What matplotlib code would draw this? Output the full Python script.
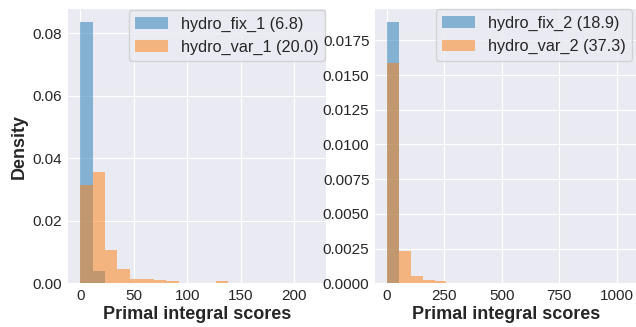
import matplotlib
matplotlib.use('Agg')
import matplotlib.pyplot as plt
import numpy as np

plt.style.use('seaborn-v0_8-darkgrid')
plt.rcParams['font.family'] = ['Liberation Sans', 'DejaVu Sans']

# densities per bin (20 equal bins over each score range)
edges_1 = np.linspace(0, 230, 21)
fix_1 = [0.0836, 0.0040] + [0] * 18
var_1 = [0.0315, 0.0357, 0.0106, 0.0045, 0.0014, 0.0014, 0.0010, 0.0007,
         0, 0, 0, 0.0008, 0, 0, 0, 0, 0, 0, 0, 0]

edges_2 = np.linspace(0, 1035, 21)
fix_2 = [0.01882] + [0] * 19
var_2 = [0.01587, 0.00232, 0.00055, 0.00024, 0.00014] + [0] * 15

labels_1 = ['hydro_fix_1 (6.8)', 'hydro_var_1 (20.0)']
labels_2 = ['hydro_fix_2 (18.9)', 'hydro_var_2 (37.3)']

W, H = 636, 327
fig = plt.figure(figsize=(W / 100, H / 100), dpi=100)
ax1 = fig.add_axes([68 / W, (H - 283.3) / H, (326 - 68) / W, (283.3 - 9) / H])
ax2 = fig.add_axes([375 / W, (H - 283.3) / H, (637 - 375) / W, (283.3 - 9) / H])

legend_kw = dict(loc='upper right', borderaxespad=0, fontsize=11.7,
                 frameon=True, fancybox=True, facecolor='#EAEAF2',
                 edgecolor='0.8', framealpha=0.8)


def draw(ax, edges, fix, var, labels):
    widths = np.diff(edges)
    ax.bar(edges[:-1], fix, width=widths, align='edge', color='#1f77b4',
           alpha=0.5, linewidth=0, label=labels[0])
    ax.bar(edges[:-1], var, width=widths, align='edge', color='#ff7f0e',
           alpha=0.5, linewidth=0, label=labels[1])
    ax.set_xlabel('Primal integral scores', fontsize=13, fontweight='bold',
                  labelpad=2)
    ax.tick_params(labelsize=11, pad=4)


draw(ax1, edges_1, fix_1, var_1, labels_1)
draw(ax2, edges_2, fix_2, var_2, labels_2)

ax1.set_xlim(-11.5, 229.5)
ax1.set_xticks([0, 50, 100, 150, 200])
ax1.set_yticks(np.arange(0, 0.081, 0.02))
ax1.set_ylabel('Density', fontsize=13, fontweight='bold')
ax1.yaxis.set_major_formatter(matplotlib.ticker.FormatStrFormatter('%.2f'))
ax1.legend(bbox_to_anchor=(325 / W, 1 - 10 / H),
           bbox_transform=fig.transFigure, **legend_kw)

ax2.set_xlim(-52, 1088)
ax2.set_xticks([0, 250, 500, 750, 1000])
ax2.set_yticks(np.arange(0, 0.0176, 0.0025))
ax2.yaxis.set_major_formatter(matplotlib.ticker.FormatStrFormatter('%.4f'))
ax2.legend(bbox_to_anchor=(632 / W, 1 - 9.3 / H),
           bbox_transform=fig.transFigure, **legend_kw)

plt.savefig('out.png')
